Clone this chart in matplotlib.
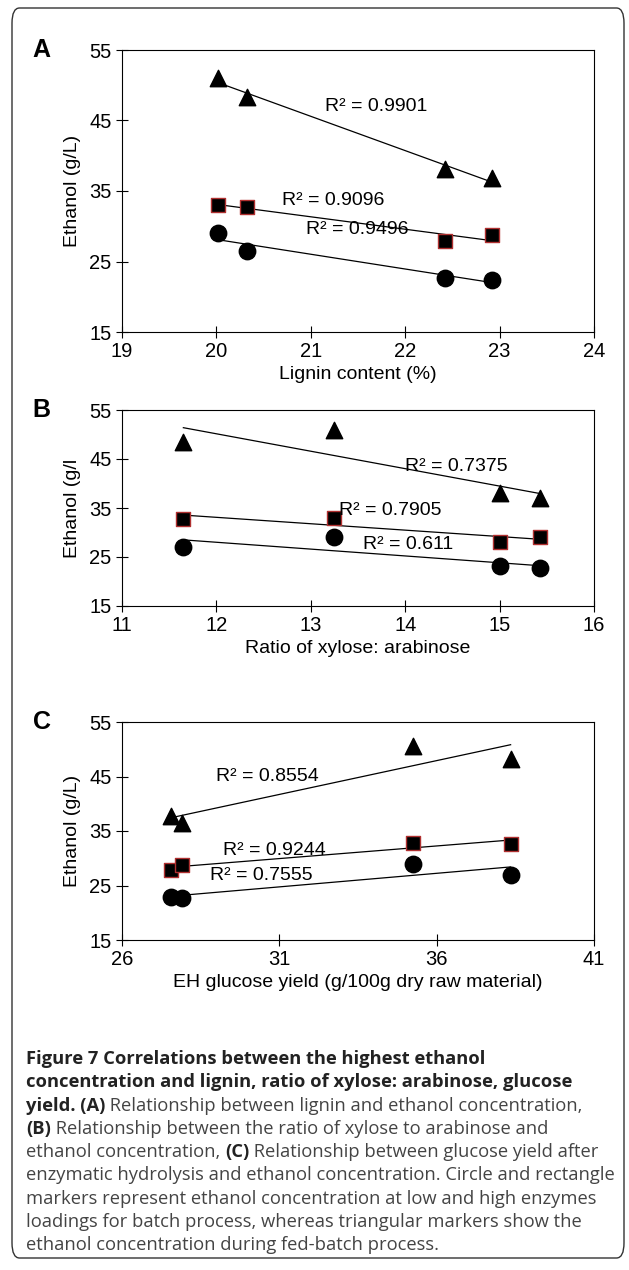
import numpy as np
import matplotlib
matplotlib.use("Agg")
import matplotlib.pyplot as plt
from matplotlib.patches import FancyBboxPatch

# Panel A
a_x = [20.02, 20.32, 22.42, 22.92]
a_tri = [51.0, 48.3, 38.1, 36.8]
a_sq = [33.0, 32.8, 27.9, 28.7]
a_ci = [29.0, 26.5, 22.7, 22.4]
# Panel B
b_x = [11.65, 13.25, 15.0, 15.43]
b_tri = [48.5, 51.0, 38.0, 37.0]
b_sq = [32.8, 33.0, 28.0, 29.0]
b_ci = [27.0, 29.0, 23.1, 22.7]
# Panel C
c_x = [27.55, 27.9, 35.25, 38.35]
c_tri = [37.7, 36.5, 50.6, 48.3]
c_sq = [27.8, 28.8, 32.8, 32.7]
c_ci = [22.9, 22.7, 29.0, 26.9]

plt.rcParams['font.family'] = ['Liberation Sans', 'DejaVu Sans']
fig = plt.figure(figsize=(6.29, 12.7), dpi=100)
W, H = 629, 1270
fig.patches.append(FancyBboxPatch((12/W, 12/H), 612/W, 1250/H,
    boxstyle="round,pad=0,rounding_size=0.012", transform=fig.transFigure,
    fill=False, edgecolor="#333333", linewidth=1.0))

def ax_at(l, t, r, b):
    return fig.add_axes([l/W, 1-b/H, (r-l)/W, (b-t)/H])

def panel(ax, x, tri, sq, ci, xlim, xticks, xlabel, ylabel, letter, labels):
    x = np.array(x)
    for ys in (tri, sq, ci):
        p = np.polyfit(x, ys, 1)
        xx = np.array([x.min(), x.max()])
        ax.plot(xx, np.polyval(p, xx), color='black', lw=0.9, zorder=2)
    ax.scatter(x, tri, marker='^', s=140, color='black', zorder=3)
    ax.scatter(x, sq, marker='s', s=105, color='black', edgecolors='#b03030', linewidths=1.0, zorder=3)
    ax.scatter(x, ci, marker='o', s=140, color='black', zorder=3)
    ax.set_xlim(*xlim); ax.set_ylim(15, 55)
    ax.set_xticks(xticks); ax.set_yticks([15, 25, 35, 45, 55])
    ax.tick_params(labelsize=14.5, direction='inout', length=8, width=0.8)
    ax.set_xlabel(xlabel, fontsize=14, labelpad=3)
    ax.set_ylabel(ylabel, fontsize=14, labelpad=6)
    for s in ax.spines.values():
        s.set_linewidth(0.8)
    ax.text(-0.17, 1.0, letter, transform=ax.transAxes, fontsize=18, fontweight='bold', ha='center', va='center')
    for (tx, ty, t) in labels:
        ax.text(tx, ty, t, fontsize=14, ha='left', va='center')

axA = ax_at(122, 50, 594, 332)
panel(axA, a_x, a_tri, a_sq, a_ci, (19, 24), [19, 20, 21, 22, 23, 24],
      'Lignin content (%)', 'Ethanol (g/L)', 'A',
      [(21.15, 47.0, 'R² = 0.9901'), (20.7, 33.6, 'R² = 0.9096'), (20.95, 29.5, 'R² = 0.9496')])
axB = ax_at(122, 410, 594, 606)
panel(axB, b_x, b_tri, b_sq, b_ci, (11, 16), [11, 12, 13, 14, 15, 16],
      'Ratio of xylose: arabinose', 'Ethanol (g/l', 'B',
      [(14.0, 43.5, 'R² = 0.7375'), (13.3, 34.5, 'R² = 0.7905'), (13.55, 27.5, 'R² = 0.611')])
axC = ax_at(122, 722, 594, 940)
panel(axC, c_x, c_tri, c_sq, c_ci, (26, 41), [26, 31, 36, 41],
      'EH glucose yield (g/100g dry raw material)', 'Ethanol (g/L)', 'C',
      [(29.0, 45.0, 'R² = 0.8554'), (29.2, 31.5, 'R² = 0.9244'), (28.8, 26.8, 'R² = 0.7555')])

cap_lines = [
    [("Figure 7 Correlations between the highest ethanol", 'bold')],
    [("concentration and lignin, ratio of xylose: arabinose, glucose", 'bold')],
    [("yield. (A)", 'bold'), (" Relationship between lignin and ethanol concentration,", 'normal')],
    [("(B)", 'bold'), (" Relationship between the ratio of xylose to arabinose and", 'normal')],
    [("ethanol concentration, ", 'normal'), ("(C)", 'bold'), (" Relationship between glucose yield after", 'normal')],
    [("enzymatic hydrolysis and ethanol concentration. Circle and rectangle", 'normal')],
    [("markers represent ethanol concentration at low and high enzymes", 'normal')],
    [("loadings for batch process, whereas triangular markers show the", 'normal')],
    [("ethanol concentration during fed-batch process.", 'normal')],
]
fig.canvas.draw()
r = fig.canvas.get_renderer()
y0 = 1059
for i, line in enumerate(cap_lines):
    x = 26
    for txt, w in line:
        t = fig.text(x/W, 1-(y0+i*23.3)/H, txt, fontsize=13.2, fontweight=w,
                     color='#222222' if w == 'bold' else '#444444',
                     family='Open Sans', va='center', ha='left')
        bb = t.get_window_extent(renderer=r)
        x += bb.width
fig.savefig('out.png', dpi=100)
